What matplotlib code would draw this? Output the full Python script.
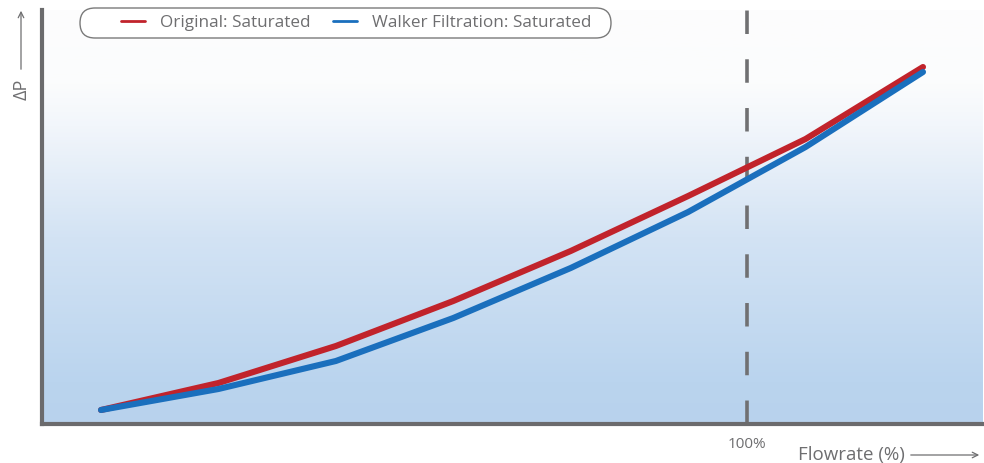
import numpy as np
import matplotlib
matplotlib.use('Agg')
from matplotlib import pyplot as plt
from matplotlib.colors import LinearSegmentedColormap
from matplotlib.patches import FancyBboxPatch

# flowrate (%) and relative pressure drop
flowrate = [12, 28, 44, 60, 76, 92, 108, 124]
dp_original = [14, 41, 78, 123, 173, 228, 285, 357]
dp_walker = [14, 35, 63, 106, 156, 212, 277, 352]
rated_flow = 100

labels = ['Original: Saturated', 'Walker Filtration: Saturated']
colors = ['#c1232b', '#1a6fbd']
grey = '#6b6b6d'
text_grey = '#6e6e70'

plt.rcParams['font.family'] = ['Open Sans', 'DejaVu Sans']

W, H = 984, 463
fig = plt.figure(figsize=(W / 100, H / 100), dpi=100)
ax = fig.add_axes([42 / W, 39 / H, 940 / W, 414 / H])

ax.set_xlim(3.96, 132.04)
ax.set_ylim(0, 414)

# background gradient, white on top to light blue at the bottom
cmap = LinearSegmentedColormap.from_list('bg', [
    (0.0, '#b8d2ed'), (0.1, '#bad4ee'), (0.45, '#d3e3f4'),
    (0.72, '#f2f6fb'), (0.82, '#fbfcfd'), (1.0, '#fdfdfd')])
grad = np.linspace(0, 1, 256).reshape(-1, 1)
ax.imshow(grad, cmap=cmap, aspect='auto', origin='lower',
          extent=[0, 1, 0, 1], transform=ax.transAxes, zorder=0)

ax.axvline(rated_flow, color='#707072', lw=2.6, dashes=(6.5, 7), zorder=2)

ax.plot(flowrate, dp_original, color=colors[0], lw=4.4,
        solid_capstyle='round', label=labels[0], zorder=3)
ax.plot(flowrate, dp_walker, color=colors[1], lw=4.4,
        solid_capstyle='round', label=labels[1], zorder=4)

for s in ['top', 'right']:
    ax.spines[s].set_visible(False)
for s in ['left', 'bottom']:
    ax.spines[s].set_color(grey)
    ax.spines[s].set_linewidth(3)

ax.set_yticks([])
ax.set_xticks([rated_flow])
ax.set_xticklabels(['100%'])
ax.tick_params(axis='x', length=0, pad=9, labelsize=11, labelcolor=text_grey)

# pill shaped legend box, drawn in pixels
box = FancyBboxPatch((80, H - 38), 531, 30,
                     boxstyle='round,pad=0,rounding_size=15',
                     transform=None, facecolor='white', edgecolor='#7a7a7a',
                     lw=1, zorder=5)
fig.patches.append(box)

leg = fig.legend(handles=ax.get_lines()[1:], loc='center',
                 bbox_to_anchor=(356 / W, 1 - 23 / H), ncol=2,
                 fontsize=12.3, frameon=False, handlelength=1.4,
                 columnspacing=1.35, handletextpad=0.85, borderpad=0.2)
leg.set_zorder(6)
for t in leg.get_texts():
    t.set_color(text_grey)
for h in leg.legend_handles:
    h.set_linewidth(2)

# axis titles with arrows
fig.text(22 / W, 1 - 100 / H, 'ΔP', rotation=90, ha='center', va='bottom',
         fontsize=13, color=text_grey)
ax.annotate('', xy=(21 / W, 1 - 8 / H), xytext=(21 / W, 1 - 72 / H),
            xycoords='figure fraction',
            arrowprops=dict(arrowstyle='->', color=text_grey, lw=0.9))
fig.text(905 / W, 1 - 455 / H, 'Flowrate (%)', ha='right', va='center',
         fontsize=13.5, color=text_grey)
ax.annotate('', xy=(982 / W, 1 - 455 / H), xytext=(908 / W, 1 - 455 / H),
            xycoords='figure fraction',
            arrowprops=dict(arrowstyle='->', color=text_grey, lw=0.9))

fig.savefig('out.png', dpi=100)
